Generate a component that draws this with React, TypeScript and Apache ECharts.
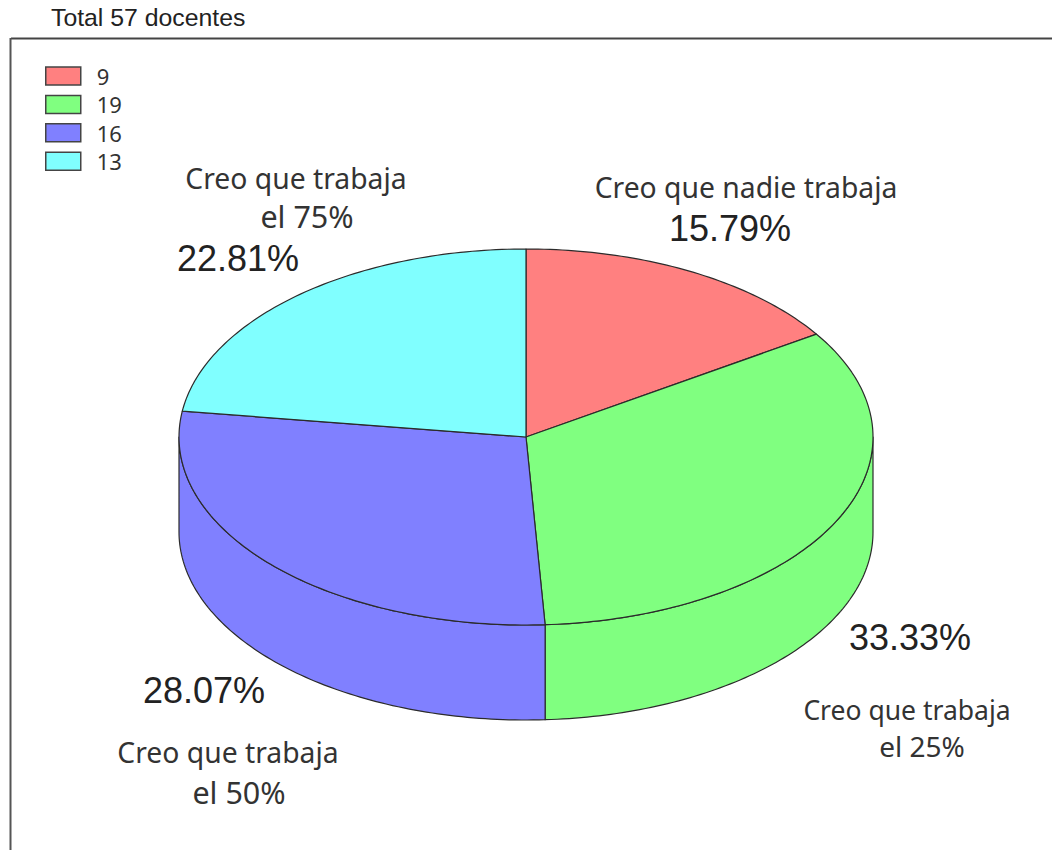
import React, { useEffect, useRef } from "react";
import * as echarts from "echarts";

const counts = [9, 19, 16, 13];
const colors = ["#ff8080", "#80ff80", "#8080ff", "#80ffff"];
const titleText = "Total 57 docentes";
const captionLines = [
  ["Creo que nadie trabaja"],
  ["Creo que trabaja", "el 25%"],
  ["Creo que trabaja", "el 50%"],
  ["Creo que trabaja", "el 75%"],
];

const CX = 526, CY = 437, RX = 347, RY = 188, DEPTH = 95;
const LINE = "#2b2b2b";
const total = counts.reduce((a, b) => a + b, 0);
const percent = (v: number) => ((v / total) * 100).toFixed(2) + "%";

const pt = (deg: number, dy = 0): number[] => {
  const r = (deg * Math.PI) / 180;
  return [CX + RX * Math.sin(r), CY - RY * Math.cos(r) + dy];
};
const arc = (a: number, b: number, dy = 0): number[][] => {
  const n = Math.max(2, Math.ceil(Math.abs(b - a)));
  const out: number[][] = [];
  for (let i = 0; i <= n; i++) out.push(pt(a + ((b - a) * i) / n, dy));
  return out;
};

const sliceItem = (index: number) => {
  const before = counts.slice(0, index).reduce((a, b) => a + b, 0);
  const a0 = (before / total) * 360;
  const a1 = ((before + counts[index]) / total) * 360;
  const style = { fill: colors[index], stroke: LINE, lineWidth: 1.2, lineJoin: "round" };
  const children: any[] = [];
  const s0 = Math.max(a0, 90), s1 = Math.min(a1, 270);
  if (s1 > s0) {
    children.push({
      type: "polygon",
      shape: { points: [...arc(s0, s1), ...arc(s1, s0, DEPTH)] },
      style,
    });
  }
  children.push({
    type: "polygon",
    shape: { points: [[CX, CY], ...arc(a0, a1)] },
    style,
  });
  return { type: "group", children };
};

const text = (t: string, x: number, y: number, size: number, family: string, color: string) => ({
  type: "text",
  x,
  y,
  style: { text: t, fontSize: size, fontFamily: family, fill: color, textAlign: "center", textVerticalAlign: "middle" },
});

const SANS = "Liberation Sans";
const HUM = "Noto Sans";
const PCT = 36;

const captionPos = [
  { sizes: [28.3], rows: [[746, 187]] },
  { sizes: [26.5, 28], rows: [[907, 710], [922, 746]] },
  { sizes: [28.3, 30.5], rows: [[228, 752], [239, 792]] },
  { sizes: [28.3, 30.5], rows: [[296, 178], [307, 216]] },
];
const percentPos = [[730, 228], [910, 637], [204, 690], [238, 258]];

export default function App() {
  const ref = useRef<HTMLDivElement>(null);
  useEffect(() => {
    const chart = echarts.init(ref.current!, null, { renderer: "svg" });
    const graphics: any[] = [
      { type: "line", shape: { x1: 11, y1: 38.5, x2: 1052, y2: 38.5 }, style: { stroke: "#444", lineWidth: 2 } },
      { type: "line", shape: { x1: 10.5, y1: 38, x2: 10.5, y2: 850 }, style: { stroke: "#555", lineWidth: 2 } },
      {
        type: "text", x: 51, y: 17,
        style: { text: titleText, fontSize: 24.8, fontFamily: SANS, fill: "#222", textAlign: "left", textVerticalAlign: "middle" },
      },
    ];
    counts.forEach((v, i) => {
      graphics.push(text(percent(v), percentPos[i][0], percentPos[i][1], PCT, SANS, "#222"));
      captionLines[i].forEach((l, j) => {
        const [x, y] = captionPos[i].rows[j];
        graphics.push(text(l, x, y, captionPos[i].sizes[j], HUM, "#333"));
      });
    });
    chart.setOption({
      animation: false,
      backgroundColor: "#fff",
      legend: {
        left: 40,
        top: 60,
        orient: "vertical",
        itemWidth: 35,
        itemHeight: 18,
        itemGap: 6.4,
        selectedMode: false,
        textStyle: { fontFamily: HUM, fontSize: 22, lineHeight: 18, color: "#333", padding: [0, 0, 0, 11] },
        data: counts.map((v, i) => ({
          name: String(v),
          icon: "rect",
          itemStyle: { color: colors[i], borderColor: "#444", borderWidth: 1.5 },
        })),
      },
      series: counts.map((v, i) => ({
        type: "custom",
        name: String(v),
        coordinateSystem: "none",
        data: [v],
        itemStyle: { color: colors[i] },
        renderItem: () => sliceItem(i),
      })),
      graphic: graphics,
    });
    return () => chart.dispose();
  }, []);
  return <div ref={ref} style={{ position: "absolute", left: 0, top: 0, width: 1052, height: 850 }} />;
}
